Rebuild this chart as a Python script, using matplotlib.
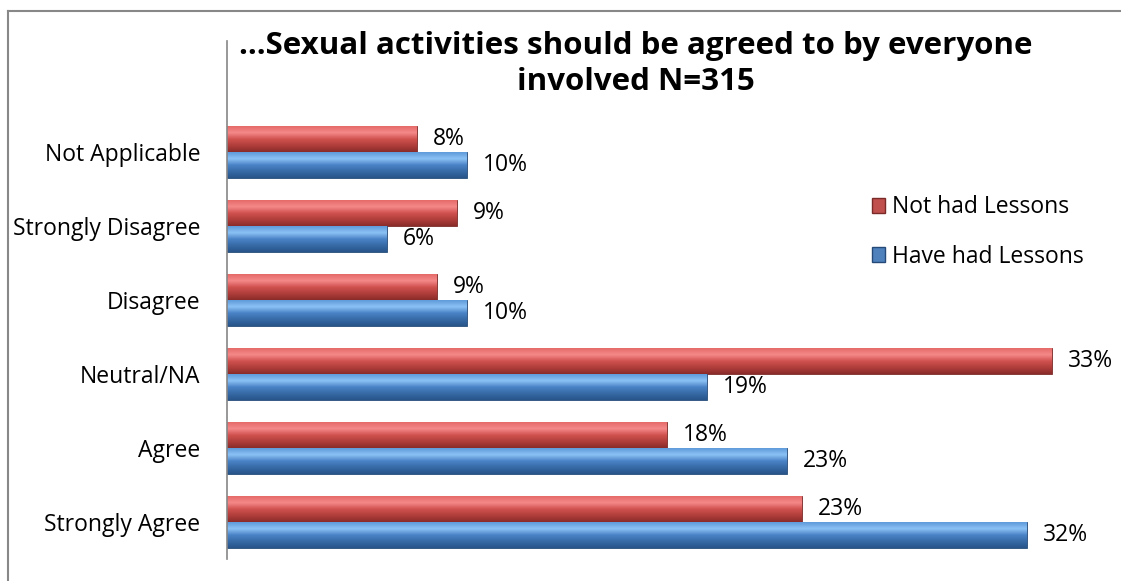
import numpy as np
import matplotlib
matplotlib.use("Agg")
from matplotlib import pyplot as plt
from matplotlib.colors import LinearSegmentedColormap
from matplotlib.lines import Line2D
from matplotlib.patches import Patch

categories = ["Strongly Agree", "Agree", "Neutral/NA", "Disagree",
              "Strongly Disagree", "Not Applicable"]
not_had = [23.0, 17.6, 33.0, 8.4, 9.2, 7.6]
have_had = [32.0, 22.4, 19.2, 9.6, 6.4, 9.6]
not_had_labels = ["23%", "18%", "33%", "9%", "9%", "8%"]
have_had_labels = ["32%", "23%", "19%", "10%", "6%", "10%"]

FONT = "Open Sans"
red_cmap = LinearSegmentedColormap.from_list(
    "r", ["#8a2c2a", "#b03e3b", "#d0524f", "#f5898a", "#e66b69"])
blue_cmap = LinearSegmentedColormap.from_list(
    "b", ["#28558a", "#376aa6", "#4a83c6", "#8cc2f5", "#5f9ada"])

fig = plt.figure(figsize=(11.21, 5.81), dpi=100)
W, H = 1121, 581
ax = fig.add_axes([227 / W, 1 - 559 / H, 875 / W, 518 / H])

y = np.arange(len(categories))
h = 0.35
red_bars = ax.barh(y + h / 2, not_had, height=h, color="#c0504d",
                   edgecolor="#7a2a28", linewidth=0.6, label="Not had Lessons")
blue_bars = ax.barh(y - h / 2, have_had, height=h, color="#4f81bd",
                    edgecolor="#254a78", linewidth=0.6, label="Have had Lessons")

# bevel-like gradient fill over each bar
grad = np.linspace(0, 1, 64).reshape(-1, 1)
for bars, cmap in [(red_bars, red_cmap), (blue_bars, blue_cmap)]:
    for b in bars:
        x0, y0 = b.get_x(), b.get_y()
        ax.imshow(grad, cmap=cmap, aspect="auto", origin="lower",
                  extent=[x0, x0 + b.get_width(), y0, y0 + b.get_height()],
                  zorder=2, interpolation="bilinear")

for bars, labels in [(red_bars, not_had_labels), (blue_bars, have_had_labels)]:
    for b, lab in zip(bars, labels):
        ax.annotate(lab, (b.get_width(), b.get_y() + b.get_height() / 2),
                    xytext=(11.5, 0), textcoords="offset points",
                    va="center", ha="left", fontsize=16.5, family=FONT)

ax.set_xlim(0, 35)
ax.set_ylim(-0.5, 6.5)
ax.set_yticks(y)
ax.set_yticklabels(categories, fontsize=16.5, family=FONT)
ax.tick_params(axis="y", length=0, pad=19)
ax.set_xticks([])
for s in ["top", "right", "bottom"]:
    ax.spines[s].set_visible(False)
ax.spines["left"].set_color("#868686")
ax.spines["left"].set_linewidth(1.2)

handles = [Patch(facecolor="#c0504d", edgecolor="#7a2a28", label="Not had Lessons"),
           Patch(facecolor="#4f81bd", edgecolor="#254a78", label="Have had Lessons")]
fig.legend(handles=handles, loc="center left", bbox_to_anchor=(851 / W, 1 - 232 / H),
           frameon=False, prop={"family": FONT, "size": 16.5},
           handlelength=0.6, handleheight=0.6, handletextpad=0.3, labelspacing=1.1)

fig.text(636 / W, 1 - 64 / H,
         "...Sexual activities should be agreed to by everyone\ninvolved N=315",
         ha="center", va="center", fontsize=22.5, fontweight="bold", family=FONT,
         linespacing=1.28)

# outer chart frame (only top and left visible in the crop)
fig.add_artist(Line2D([8 / W, 8 / W], [0, 1 - 11 / H], color="#888888", lw=1.5))
fig.add_artist(Line2D([8 / W, 1], [1 - 11 / H, 1 - 11 / H], color="#888888", lw=1.5))

fig.savefig("out.png", dpi=100, facecolor="white")
